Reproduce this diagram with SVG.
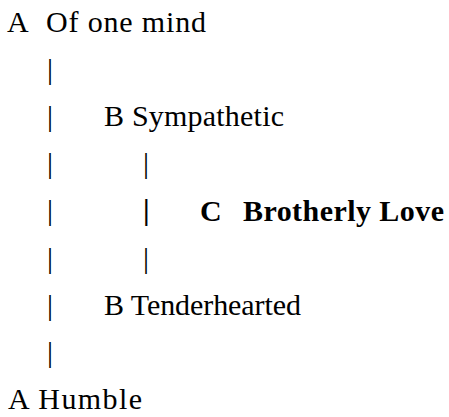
<svg xmlns="http://www.w3.org/2000/svg" width="449" height="417" viewBox="0 0 449 417">
  <style>
    text { font-family: "Liberation Serif", "Times New Roman", serif; font-size: 30px; fill: #000; }
    .bold { font-weight: bold; }
  </style>
  <rect width="449" height="417" fill="#fff"/>
  <!-- vertical bars linking the paired lines -->
  <g id="connectors">
    <text x="47" y="79">|</text>
    <text x="47" y="126">|</text>
    <text x="47" y="173">|</text>
    <text x="47" y="220">|</text>
    <text x="47" y="268">|</text>
    <text x="47" y="315">|</text>
    <text x="47" y="362">|</text>
    <text x="143" y="173">|</text>
    <text x="143" y="220" class="bold">|</text>
    <text x="143" y="268">|</text>
  </g>
  <g id="a-top">
    <text x="7" y="32">A</text>
    <text x="46" y="32" textLength="160">Of one mind</text>
  </g>
  <g id="b-top">
    <text x="104" y="126" textLength="180">B Sympathetic</text>
  </g>
  <g id="c-center">
    <text x="200" y="221" class="bold">C</text>
    <text x="243" y="221" class="bold" textLength="201">Brotherly Love</text>
  </g>
  <g id="b-bottom">
    <text x="104" y="315" textLength="197">B Tenderhearted</text>
  </g>
  <g id="a-bottom">
    <text x="8" y="409" textLength="134">A Humble</text>
  </g>
</svg>
